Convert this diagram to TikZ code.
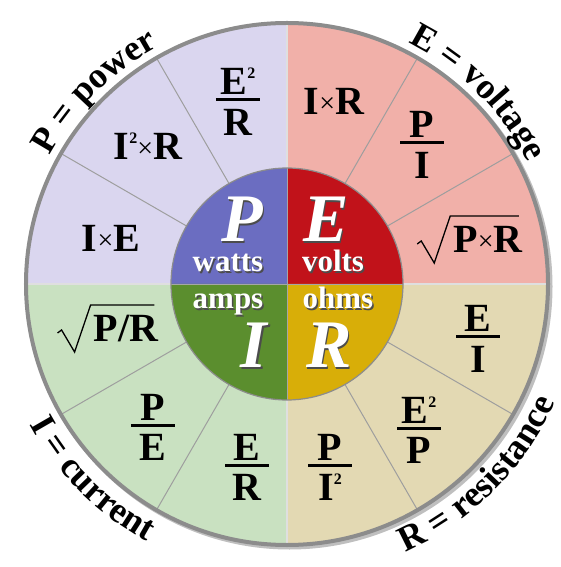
\documentclass[tikz,border=0pt]{standalone}
\usepackage{fontspec}
\setmainfont{Liberation Serif}
\usetikzlibrary{decorations.text,calc}
\definecolor{pOut}{HTML}{DAD6EF}
\definecolor{eOut}{HTML}{F1B0A9}
\definecolor{iOut}{HTML}{C9E1C1}
\definecolor{rOut}{HTML}{E3D9B3}
\definecolor{pIn}{HTML}{6B6DC1}
\definecolor{eIn}{HTML}{C1121A}
\definecolor{iIn}{HTML}{5B8E2E}
\definecolor{rIn}{HTML}{D8AE08}
\definecolor{rimGray}{HTML}{8C8C8C}
\newcommand\outerfont{\fontsize{36}{36}\selectfont\bfseries}
\newcommand\mx{\raisebox{2pt}{\fontsize{28}{28}\selectfont\mdseries\texttimes}}
\newcommand\sq{\raisebox{16pt}{\fontsize{16}{16}\selectfont 2}}
\newcommand\fracat[5]{%
  \node[formula] (#1n) at (#2,#3+5) {#4};
  \node[formula, anchor=north] (#1d) at (#2,#3-9) {#5};
  \draw[fracbar] (#2-22,#3) -- (#2+22,#3);
}
\newcommand\shtext[4]{%
  \node[#1, text=black!70] (#2s) at ($(#3)+(1.5,-1.5)$) {#4};
  \node[#1] (#2) at (#3) {#4};
}
\newcommand\rootsign[1]{%
  \draw[radicalline] ($(#1.base west)+(-36,9)$) -- ++(4,3)
    -- ($(#1.base west)+(-19,-10)$) -- ($(#1.base west)+(-3,37)$)
    -- ($(#1.base east)+(-4,37)$);
}
\begin{document}
\begin{tikzpicture}[x=1pt,y=1pt,
  formula/.style={font=\fontsize{40}{40}\selectfont\bfseries, inner sep=0pt, anchor=base},
  bigletter/.style={font=\fontsize{68}{68}\selectfont\bfseries\itshape, text=white, inner sep=0pt, anchor=base},
  unitword/.style={font=\fontsize{31}{31}\selectfont\bfseries, text=white, inner sep=0pt, anchor=base},
  fracbar/.style={line width=3pt, black},
  radicalline/.style={black, line width=1.3pt, line join=miter},
  divider/.style={draw=black!38, line width=1pt},
  qline/.style={draw=white!75!gray, line width=1.2pt},
]
\useasboundingbox (-287,-283) rectangle (274,284);
% shadow
\fill[black!25] (2.5,-2.5) circle[radius=263];
% outer quadrants
\fill[pOut] (0,0) -- (90:261) arc[start angle=90,end angle=180,radius=261] -- cycle;
\fill[eOut] (0,0) -- (0:261) arc[start angle=0,end angle=90,radius=261] -- cycle;
\fill[iOut] (0,0) -- (180:261) arc[start angle=180,end angle=270,radius=261] -- cycle;
\fill[rOut] (0,0) -- (270:261) arc[start angle=270,end angle=360,radius=261] -- cycle;
% dividers
\foreach \a in {30,60,120,150,210,240,300,330}
  \draw[divider] (\a:116) -- (\a:260);
\foreach \a in {0,90,180,270}
  \draw[qline] (\a:116) -- (\a:260);
\draw[rimGray, line width=4pt] (0,0) circle[radius=261];
% inner circle
\fill[pIn] (0,0) -- (90:116) arc[start angle=90,end angle=180,radius=116] -- cycle;
\fill[eIn] (0,0) -- (0:116) arc[start angle=0,end angle=90,radius=116] -- cycle;
\fill[iIn] (0,0) -- (180:116) arc[start angle=180,end angle=270,radius=116] -- cycle;
\fill[rIn] (0,0) -- (270:116) arc[start angle=270,end angle=360,radius=116] -- cycle;
\draw[black!35, line width=0.8pt] (-116,0) -- (116,0) (0,-116) -- (0,116);
\draw[black!45, line width=1.2pt] (0,0) circle[radius=116];
% centre texts
\shtext{bigletter}{Pl}{-45,42}{P}
\shtext{bigletter}{El}{39,42}{E}
\shtext{bigletter}{Il}{-33,-84}{I}
\shtext{bigletter}{Rl}{42,-84}{R}
\shtext{unitword}{watts}{-59,12}{watts}
\shtext{unitword}{volts}{46,12}{volts}
\shtext{unitword}{amps}{-59,-25}{amps}
\shtext{unitword}{ohms}{51,-25}{ohms}
% P quadrant
\fracat{ER}{-49}{184}{E\sq}{R}
\node[formula] (IIR) at (-139,124) {I\sq\mx R};
\node[formula] (IE) at (-176,32) {I\mx E};
% E quadrant
\node[formula] (IR) at (47,169) {I\mx R};
\fracat{PI}{135}{141}{P}{I}
\node[formula] (PR) at (201,31) {P\mx R};
\rootsign{PR}
% R quadrant
\fracat{EI}{191}{-53}{E}{I}
\fracat{EEP}{132}{-144}{E\sq}{P}
\fracat{PII}{43}{-181}{P}{I\sq}
% I quadrant
\node[formula] (PdR) at (-161,-58) {P/R};
\rootsign{PdR}
\fracat{PE}{-134}{-141}{P}{E}
\fracat{ERr}{-40}{-181}{E}{R}
% outer labels
\path[decorate, decoration={text along path, text align=center, text={|\outerfont|P = power}}]
  (180:270) arc[start angle=180, end angle=90, radius=270];
\path[decorate, decoration={text along path, text align=center, text={|\outerfont|E = voltage}}]
  (90:270) arc[start angle=90, end angle=0, radius=270];
\path[decorate, decoration={text along path, text align=center, text={|\outerfont|I = current}}]
  (180:293) arc[start angle=180, end angle=270, radius=293];
\path[decorate, decoration={text along path, text align=center, text={|\outerfont|R = resistance}}]
  (270:293) arc[start angle=270, end angle=360, radius=293];
\end{tikzpicture}
\end{document}
